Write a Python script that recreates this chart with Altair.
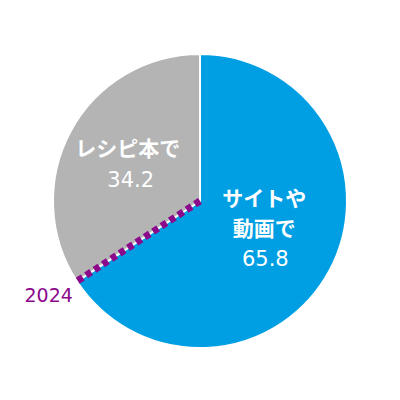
import altair as alt
import pandas as pd

categories = ["サイトや動画で", "レシピ本で"]
values = [65.8, 34.2]
order = [0, 1]
label_lines = {"サイトや動画で": ["サイトや", "動画で"], "レシピ本で": ["レシピ本で"]}
number_labels = ["65.8", "34.2"]
colors = ["#009FE3", "#B4B4B4"]
year_label = "2024"

df = pd.DataFrame({"cat": categories, "value": values, "order": order, "num": number_labels})

W, H = 384, 386
R = 147
LR = 72
cx, cy = W / 2, H / 2
FONT = "Noto Sans CJK JP"
NUMFONT = "DejaVu Sans"

base = alt.Chart(df)

pie = base.mark_arc(radius=R, stroke="white", strokeWidth=2).encode(
    theta=alt.Theta("value:Q", stack=True),
    order=alt.Order("order:Q"),
    color=alt.Color("cat:N", scale=alt.Scale(domain=categories, range=colors), legend=None),
)

pos = (
    base.transform_window(cum="sum(value)", sort=[alt.SortField("order")], frame=[None, 0])
    .transform_joinaggregate(total="sum(value)")
    .transform_calculate(
        mid="2*PI*(datum.cum - datum.value/2)/datum.total",
        end="2*PI*datum.cum/datum.total",
    )
    .transform_calculate(
        lx=f"{cx} + {LR}*sin(datum.mid)",
        ly=f"{cy} - {LR}*cos(datum.mid)",
        ex=f"{cx} + {R}*sin(datum.end)",
        ey=f"{cy} - {R}*cos(datum.end)",
        cx0=f"{cx}",
        cy0=f"{cy}",
    )
)

first = pos.transform_filter(alt.datum.order == 0)
second = pos.transform_filter(alt.datum.order == 1)

xy = dict(x=alt.X("lx:Q", scale=None), y=alt.Y("ly:Q", scale=None))

layers = [pie]

# Blue slice labels
blue_lines = label_lines[categories[0]]
for i, (txt, dy) in enumerate(zip(blue_lines, [-35, -5])):
    layers.append(
        first.transform_calculate(t=f"'{txt}'").mark_text(
            font=FONT, fontSize=21, fontWeight="bold", color="white", dy=dy, dx=1
        ).encode(text="t:N", **xy)
    )
layers.append(
    first.mark_text(font=NUMFONT, fontSize=21, color="white", dy=25, dx=2).encode(text="num:N", **xy)
)

# Gray slice labels
gray_lines = label_lines[categories[1]]
layers.append(
    second.transform_calculate(t=f"'{gray_lines[0]}'").mark_text(
        font=FONT, fontSize=21, fontWeight="bold", color="white", dy=-17, dx=-9
    ).encode(text="t:N", **xy)
)
layers.append(
    second.mark_text(font=NUMFONT, fontSize=21, color="white", dy=14, dx=-6).encode(text="num:N", **xy)
)

# Dotted boundary line at the end of the first slice
layers.append(
    first.mark_rule(color="#8B0A8B", strokeWidth=7, strokeDash=[6, 4], strokeCap="butt").encode(
        x=alt.X("cx0:Q", scale=None),
        y=alt.Y("cy0:Q", scale=None),
        x2="ex:Q",
        y2="ey:Q",
    )
)
layers.append(
    first.transform_calculate(t=f"'{year_label}'").mark_text(
        font=NUMFONT, fontSize=19, color="#8B0A8B", align="right", dx=-4, dy=15
    ).encode(text="t:N", x=alt.X("ex:Q", scale=None), y=alt.Y("ey:Q", scale=None))
)

chart = (
    alt.layer(*layers)
    .properties(width=W, height=H, autosize=alt.AutoSizeParams(type="none"), padding=0)
    .configure_view(stroke=None)
)

chart.save("out.html", embed_options={"renderer": "svg", "actions": False})
